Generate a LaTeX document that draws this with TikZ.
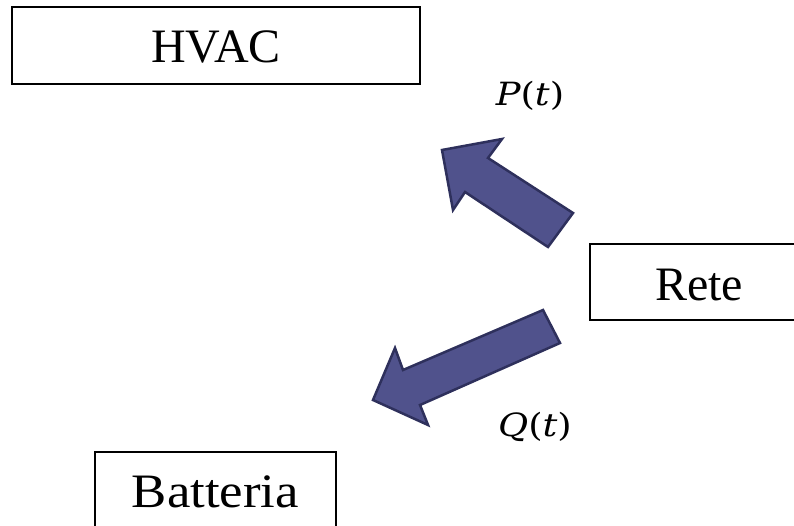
\documentclass[tikz,border=0pt]{standalone}
\usepackage{fontspec}
\setmainfont{Liberation Serif}
\newfontfamily\mathlike{DejaVu Serif}
\definecolor{arrfill}{RGB}{80,82,140}
\definecolor{arrdraw}{RGB}{46,48,92}
\begin{document}
\begin{tikzpicture}[x=1pt,y=-1pt,
  boxstyle/.style={draw=black,line width=1.5pt,fill=white},
  lbl/.style={font=\fontsize{48}{56}\selectfont,inner sep=0pt,anchor=base},
  mlbl/.style={font=\mathlike\fontsize{32}{38}\selectfont,inner sep=0pt,anchor=base,xscale=1.15},
  blockarrow/.style={fill=arrfill,draw=arrdraw,line width=2.5pt,line join=miter}]
\useasboundingbox (0,0) rectangle (794,526);
\clip (0,0) rectangle (794,526);
% boxes
\draw[boxstyle] (12,7) rectangle (420,84);
\node[lbl] (hvac) at (216,63) {HVAC};
\draw[boxstyle] (590,244) rectangle (808,320);
\node[lbl] (rete) at (699,300) {Rete};
\draw[boxstyle] (95,452) rectangle (336,540);
\node[lbl,xscale=1.1] (batt) at (215.5,507) {Batteria};
% block arrows
\draw[blockarrow] (442,150) -- (502,139) -- (488,158) -- (573,213) -- (548,247) -- (465,192) -- (453,210) -- cycle;
\draw[blockarrow] (373,400) -- (395,348) -- (403,370) -- (543,310) -- (560,343) -- (420,405) -- (428,425) -- cycle;
% labels
\node[mlbl] (p) at (530,106) {\itshape P\upshape(\itshape t\upshape)};
\node[mlbl] (q) at (535,436) {\itshape Q\upshape(\itshape t\upshape)};
\end{tikzpicture}
\end{document}
